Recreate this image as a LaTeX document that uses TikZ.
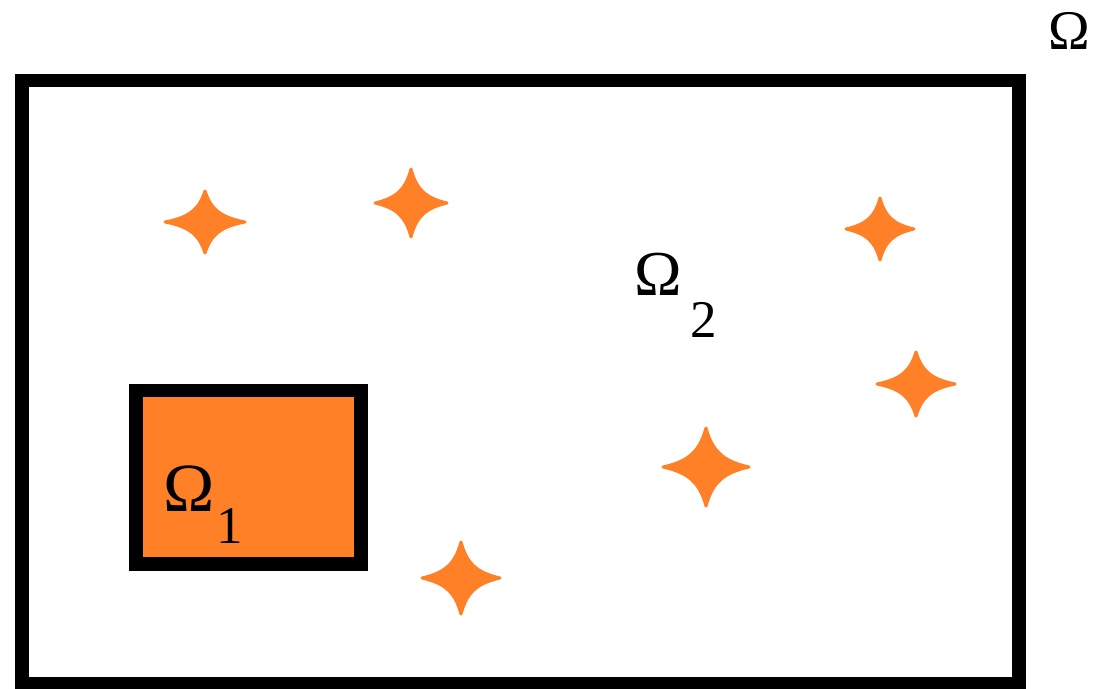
\documentclass[tikz,border=0pt]{standalone}
\usepackage{fontspec}
\setmainfont{Liberation Serif}
\definecolor{starorange}{RGB}{255,128,38}
\tikzset{
  frame/.style={draw=black, line width=13.5pt, line join=miter},
  region/.style={frame, fill=starorange},
  lbl/.style={inner sep=0pt, anchor=center, text=black},
  pics/fourstar/.style 2 args={code={
    \fill[starorange, draw=starorange, line width=3pt, line join=round]
      (#1,0) .. controls (0.4*#1,0.15*#2) and (0.15*#1,0.4*#2) .. (0,#2)
      .. controls (-0.15*#1,0.4*#2) and (-0.4*#1,0.15*#2) .. (-#1,0)
      .. controls (-0.4*#1,-0.15*#2) and (-0.15*#1,-0.4*#2) .. (0,-#2)
      .. controls (0.15*#1,-0.4*#2) and (0.4*#1,-0.15*#2) .. cycle;
  }}
}
\begin{document}
\begin{tikzpicture}[x=1pt,y=-1pt]
\useasboundingbox (0,0) rectangle (1097,688);
\clip (0,0) rectangle (1097,688);
% outer domain
\draw[frame] (22,80.5) rectangle (1019,683.5);
% inner region Omega_1
\draw[region] (136,390.5) rectangle (361,564);
% stars
\pic at (205,222) {fourstar={40}{31}};
\pic at (411,203) {fourstar={36}{34}};
\pic at (880,229) {fourstar={34}{31}};
\pic at (916,384) {fourstar={39}{32}};
\pic at (706,467) {fourstar={43}{39}};
\pic at (461,578) {fourstar={39}{36}};
% labels
\node[lbl, font=\fontsize{56}{60}\selectfont] (om) at (1069.5,31) {Ω};
\node[lbl, font=\fontsize{64}{68}\selectfont] (om2) at (658,274) {Ω};
\node[lbl, font=\fontsize{53}{56}\selectfont] (sub2) at (703.5,320) {2};
\node[lbl, font=\fontsize{69}{72}\selectfont] (om1) at (189,488.5) {Ω};
\node[lbl, font=\fontsize{53}{56}\selectfont] (sub1) at (230,526) {1};
\end{tikzpicture}
\end{document}
